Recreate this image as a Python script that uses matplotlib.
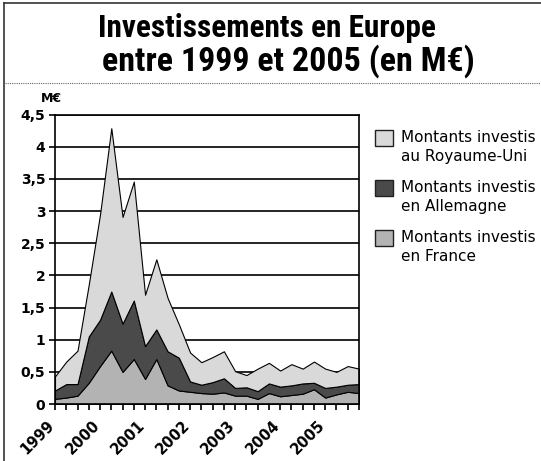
import matplotlib
matplotlib.use("Agg")
import matplotlib.pyplot as plt
from matplotlib.lines import Line2D
from matplotlib.patches import Rectangle
import matplotlib.transforms as mtransforms
from matplotlib import font_manager
import numpy as np

# ---- data (quarterly, 1999 Q1 .. 2005 Q4), M€ ----
quarters = list(range(28))
france = [0.08, 0.10, 0.13, 0.33, 0.59, 0.83, 0.50, 0.70, 0.39, 0.70, 0.29, 0.21, 0.19, 0.17,
          0.16, 0.18, 0.13, 0.13, 0.08, 0.17, 0.12, 0.14, 0.16, 0.23, 0.10, 0.15, 0.19, 0.17]
allemagne = [0.13, 0.21, 0.18, 0.72, 0.72, 0.92, 0.75, 0.91, 0.51, 0.46, 0.53, 0.51, 0.16, 0.13,
             0.18, 0.22, 0.12, 0.13, 0.12, 0.15, 0.15, 0.15, 0.16, 0.10, 0.15, 0.12, 0.11, 0.14]
royaume_uni = [0.22, 0.35, 0.52, 0.81, 1.64, 2.54, 1.66, 1.85, 0.80, 1.09, 0.83, 0.52, 0.45, 0.35,
               0.39, 0.42, 0.26, 0.19, 0.35, 0.32, 0.25, 0.33, 0.23, 0.33, 0.30, 0.23, 0.29, 0.24]
year_labels = ["1999", "2000", "2001", "2002", "2003", "2004", "2005"]
year_positions = [0, 4, 8, 12, 16, 20, 24]
y_ticks = [0, 0.5, 1, 1.5, 2, 2.5, 3, 3.5, 4, 4.5]
y_tick_labels = ["0", "0,5", "1", "1,5", "2", "2,5", "3", "3,5", "4", "4,5"]
legend_labels = ["Montants investis\nau Royaume-Uni",
                 "Montants investis\nen Allemagne",
                 "Montants investis\nen France"]
title_line1 = "Investissements en Europe"
title_line2 = "entre 1999 et 2005 (en M€)"
unit_label = "M€"

# ---- style ----
col_uk = "#d9d9d9"
col_de = "#4a4a4a"
col_fr = "#b3b3b3"

W, H = 541, 461
fig = plt.figure(figsize=(W / 100, H / 100), dpi=100)

def fx(px):
    return px / W

def fy(py):
    return 1 - py / H

ax = fig.add_axes([fx(55), fy(404), fx(359) - fx(55), fy(114.7) - fy(404)])

ax.stackplot(quarters, france, allemagne, royaume_uni,
             colors=[col_fr, col_de, col_uk], edgecolor="black", linewidth=0.8, zorder=3)

ax.set_xlim(0, 27)
ax.set_ylim(0, 4.5)
ax.set_yticks(y_ticks)
ax.set_yticklabels(y_tick_labels, fontsize=10, fontweight="bold", family="DejaVu Sans")
ax.yaxis.grid(True, color="black", linewidth=1.2, zorder=0)
ax.set_axisbelow(True)
ax.tick_params(axis="y", direction="out", length=4, width=1.2, pad=3)
ax.set_xticks(quarters)
ax.set_xticklabels([])
ax.tick_params(axis="x", direction="out", length=4, width=1.2)
for s in ax.spines.values():
    s.set_linewidth(1.2)
    s.set_color("black")
    s.set_zorder(5)

# year labels
trans = mtransforms.offset_copy(ax.get_xaxis_transform(), fig=fig, x=-8, y=-14, units="dots")
for pos, lab in zip(year_positions, year_labels):
    ax.text(pos, 0, lab, transform=trans, rotation=45, ha="right", va="top",
            rotation_mode="anchor", fontsize=10.5, fontweight="bold", family="DejaVu Sans")

# unit label
fig.text(fx(51), fy(99), unit_label, ha="center", va="center", fontsize=9,
         fontweight="bold", family="DejaVu Sans")

# title: pick a narrow bold family if one is installed
installed = {f.name for f in font_manager.fontManager.ttflist}
title_family = "DejaVu Sans"
for cand in ["Roboto Condensed", "Liberation Sans Narrow", "DejaVu Sans Condensed",
             "Open Sans Condensed", "Noto Sans Display", "Roboto"]:
    if cand in installed:
        title_family = cand
        break
fig.text(fx(267), fy(37), title_line1, ha="center", va="baseline", fontsize=22.5,
         fontweight="bold", family=title_family, fontstretch="condensed")
fig.text(fx(288), fy(71), title_line2, ha="center", va="baseline", fontsize=24.5,
         fontweight="bold", family=title_family, fontstretch="condensed")

# frame and separator
fig.add_artist(Line2D([fx(3.5), fx(3.5)], [0, fy(3)], color="#333333", linewidth=1.2))
fig.add_artist(Line2D([fx(3.5), 1], [fy(3), fy(3)], color="#333333", linewidth=1.2))
fig.add_artist(Line2D([fx(5), 1], [fy(83), fy(83)], color="#666666", linewidth=0.8,
                      linestyle=(0, (1, 1))))

# legend
for k, (lab, col) in enumerate(zip(legend_labels, [col_uk, col_de, col_fr])):
    top = 130 + 50 * k
    fig.add_artist(Rectangle((fx(375), fy(top + 16)), fx(18), fy(top) - fy(top + 16),
                             transform=fig.transFigure, facecolor=col,
                             edgecolor="#222222", linewidth=1.0))
    fig.text(fx(401), fy(top + 17), lab, ha="left", va="center", fontsize=11,
             family="DejaVu Sans", linespacing=1.35)

fig.savefig("out.png", dpi=100)
